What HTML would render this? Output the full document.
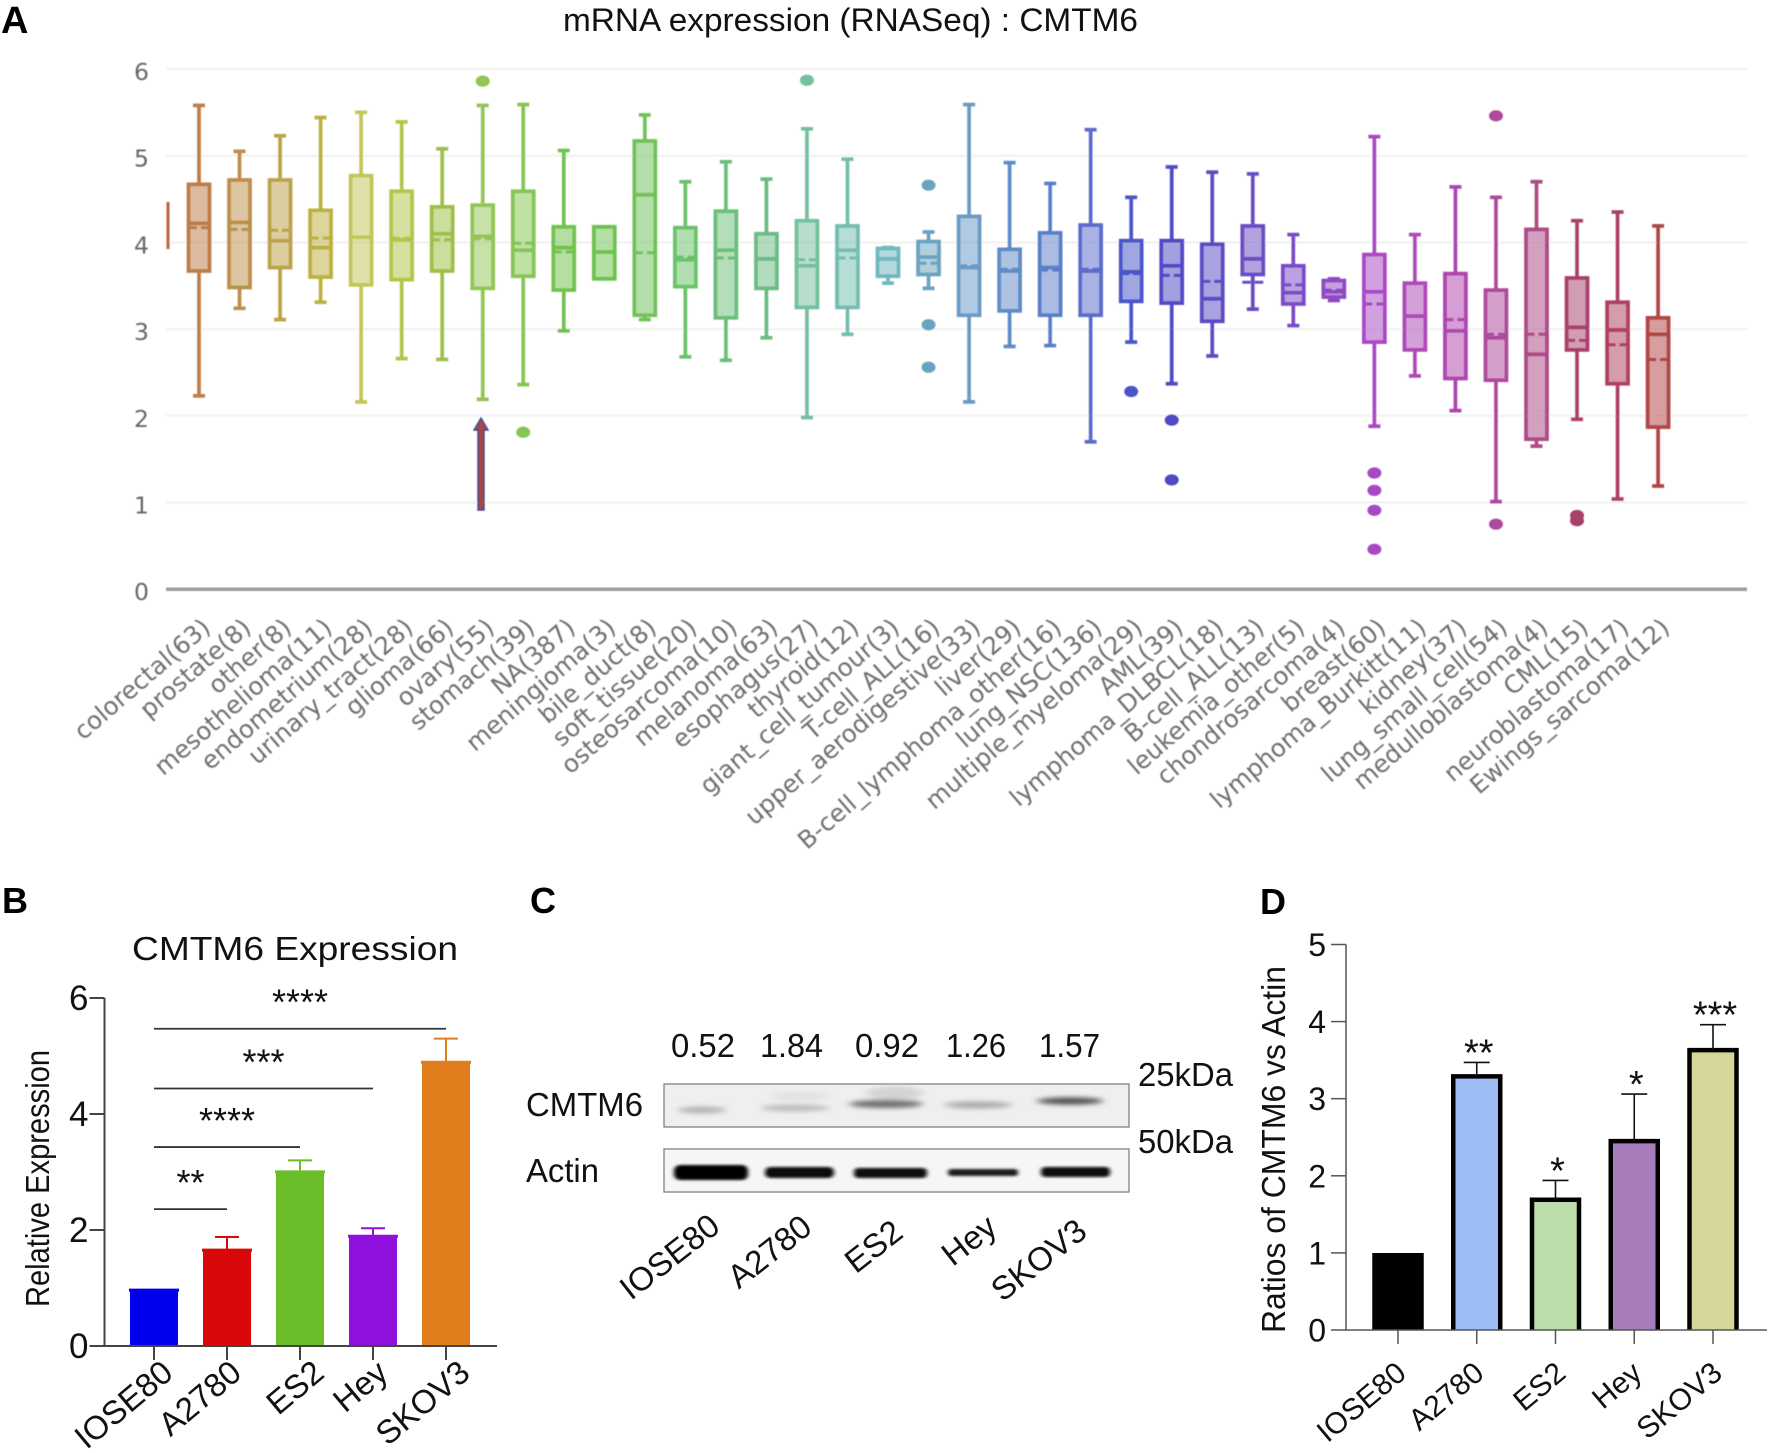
<!DOCTYPE html>
<html lang="en">
<head>
<meta charset="utf-8">
<title>CMTM6 expression figure</title>
<style>
html,body{margin:0;padding:0;background:#fff;width:1772px;height:1453px;overflow:hidden}
svg{display:block}
text{font-family:"Liberation Sans",Arial,sans-serif;fill:#111}
.panel{font-weight:bold;font-size:36px;fill:#000}
</style>
</head>
<body>
<svg id="fig" width="1772" height="1453" viewBox="0 0 1772 1453" xmlns="http://www.w3.org/2000/svg">
<defs>
<filter id="soft" x="-5%" y="-5%" width="110%" height="110%"><feGaussianBlur stdDeviation="0.7"/></filter>
<filter id="softer" x="-5%" y="-5%" width="110%" height="110%"><feGaussianBlur stdDeviation="0.5"/></filter>
<filter id="band" x="-30%" y="-200%" width="160%" height="500%"><feGaussianBlur stdDeviation="4 2.4"/></filter>
<filter id="band2" x="-30%" y="-150%" width="160%" height="400%"><feGaussianBlur stdDeviation="2.2 1.3"/></filter>
</defs>

<text class="panel" x="1" y="33" style="font-size:38px">A</text>
<text class="panel" x="2" y="913">B</text>
<text class="panel" x="530" y="913">C</text>
<text class="panel" x="1260" y="914">D</text>

<text x="563" y="31" font-size="32" textLength="575" lengthAdjust="spacingAndGlyphs">mRNA expression (RNASeq) : CMTM6</text>
<g id="panelA"></g>

<text x="132" y="960" font-size="33" textLength="326" lengthAdjust="spacingAndGlyphs">CMTM6 Expression</text>
<text transform="translate(49,1307) rotate(-90)" font-size="33" textLength="257" lengthAdjust="spacingAndGlyphs">Relative Expression</text>
<g id="panelB"></g>

<g id="panelC">
  <text x="671" y="1057" font-size="33" textLength="64" lengthAdjust="spacingAndGlyphs">0.52</text>
  <text x="760" y="1057" font-size="33" textLength="63" lengthAdjust="spacingAndGlyphs">1.84</text>
  <text x="855" y="1057" font-size="33" textLength="64" lengthAdjust="spacingAndGlyphs">0.92</text>
  <text x="946" y="1057" font-size="33" textLength="60" lengthAdjust="spacingAndGlyphs">1.26</text>
  <text x="1039" y="1057" font-size="33" textLength="61" lengthAdjust="spacingAndGlyphs">1.57</text>
  <text x="1138" y="1086" font-size="33" textLength="95" lengthAdjust="spacingAndGlyphs">25kDa</text>
  <text x="1138" y="1153" font-size="33" textLength="95" lengthAdjust="spacingAndGlyphs">50kDa</text>
  <text x="526" y="1116" font-size="33" textLength="117" lengthAdjust="spacingAndGlyphs">CMTM6</text>
  <text x="526" y="1182" font-size="33" textLength="73" lengthAdjust="spacingAndGlyphs">Actin</text>

  <g>
    <rect x="664" y="1084" width="465" height="43" fill="#efefef" stroke="#777" stroke-width="1.2"/>
    <ellipse cx="702" cy="1110" rx="24" ry="3.5" fill="#b4b4b4" filter="url(#band)"/>
    <ellipse cx="800" cy="1096" rx="30" ry="5" fill="#e2e2e2" filter="url(#band)"/>
    <ellipse cx="795" cy="1108" rx="34" ry="3.5" fill="#bcbcbc" filter="url(#band)"/>
    <ellipse cx="895" cy="1093" rx="28" ry="7" fill="#d4d4d4" filter="url(#band)"/>
    <ellipse cx="886" cy="1104" rx="37" ry="4" fill="#707070" filter="url(#band)"/>
    <ellipse cx="978" cy="1105" rx="34" ry="3.6" fill="#acacac" filter="url(#band)"/>
    <ellipse cx="1070" cy="1101" rx="33" ry="3.6" fill="#505050" filter="url(#band)"/>
  </g>
  <g>
    <rect x="664" y="1149" width="465" height="43" fill="#f6f6f6" stroke="#777" stroke-width="1.2"/>
    <rect x="674" y="1165" width="74" height="15" rx="6" fill="#000" filter="url(#band2)"/>
    <rect x="765" y="1167" width="69" height="11" rx="5" fill="#0a0a0a" filter="url(#band2)"/>
    <rect x="854" y="1168" width="73" height="10" rx="4" fill="#111" filter="url(#band2)"/>
    <rect x="948" y="1169" width="70" height="7" rx="3" fill="#1c1c1c" filter="url(#band2)"/>
    <rect x="1041" y="1167" width="69" height="10" rx="4" fill="#111" filter="url(#band2)"/>
  </g>
  <text text-anchor="end" transform="translate(722,1230) rotate(-38)" font-size="33">IOSE80</text>
  <text text-anchor="end" transform="translate(814,1231) rotate(-38)" font-size="33">A2780</text>
  <text text-anchor="end" transform="translate(905,1236) rotate(-38)" font-size="33">ES2</text>
  <text text-anchor="end" transform="translate(999,1231) rotate(-38)" font-size="33">Hey</text>
  <text text-anchor="end" transform="translate(1089,1235) rotate(-38)" font-size="33">SKOV3</text>
</g>

<text transform="translate(1285,1333) rotate(-90)" font-size="33" textLength="367" lengthAdjust="spacingAndGlyphs">Ratios of CMTM6 vs Actin</text>
<g id="panelD"></g>
</svg>

<script>
/* ---------- Panel A data ---------- */
const cancerTypes = ["colorectal(63)","prostate(8)","other(8)","mesothelioma(11)","endometrium(28)","urinary_tract(28)","glioma(66)","ovary(55)","stomach(39)","NA(387)","meningioma(3)","bile_duct(8)","soft_tissue(20)","osteosarcoma(10)","melanoma(63)","esophagus(27)","thyroid(12)","giant_cell_tumour(3)","T-cell_ALL(16)","upper_aerodigestive(33)","liver(29)","B-cell_lymphoma_other(16)","lung_NSC(136)","multiple_myeloma(29)","AML(39)","lymphoma_DLBCL(18)","B-cell_ALL(13)","leukemia_other(5)","chondrosarcoma(4)","breast(60)","lymphoma_Burkitt(11)","kidney(37)","lung_small_cell(54)","medulloblastoma(4)","CML(15)","neuroblastoma(17)","Ewings_sarcoma(12)"];
const whiskerHigh = [5.58,5.05,5.23,5.44,5.50,5.39,5.08,5.58,5.59,5.06,4.18,5.47,4.70,4.93,4.73,5.31,4.96,3.94,4.12,5.59,4.92,4.68,5.30,4.52,4.87,4.81,4.79,4.09,3.58,5.22,4.09,4.64,4.52,4.70,4.25,4.35,4.19];
const quartile3 = [4.67,4.72,4.72,4.37,4.77,4.59,4.41,4.43,4.59,4.18,4.18,5.17,4.17,4.36,4.10,4.25,4.19,3.93,4.01,4.30,3.92,4.11,4.20,4.02,4.02,3.98,4.19,3.73,3.56,3.86,3.53,3.64,3.45,4.15,3.59,3.31,3.13];
const medians = [4.22,4.23,4.02,3.94,4.06,4.03,4.10,4.07,3.91,3.94,3.89,4.55,3.80,3.91,3.81,3.73,3.91,3.81,3.83,3.71,3.67,3.71,3.67,3.66,3.73,3.35,3.81,3.42,3.43,3.43,3.15,2.98,2.90,2.71,3.02,2.99,2.94];
const means = [4.17,4.15,4.14,4.05,4.06,4.05,4.03,4.04,3.99,3.89,3.89,3.88,3.83,3.82,3.81,3.80,3.82,3.81,3.76,3.73,3.69,3.68,3.69,3.64,3.62,3.55,3.54,3.51,3.45,3.29,3.15,3.11,2.94,2.94,2.87,2.82,2.65];
const quartile1 = [3.67,3.48,3.71,3.60,3.51,3.57,3.67,3.47,3.61,3.45,3.58,3.16,3.49,3.13,3.47,3.25,3.25,3.61,3.63,3.16,3.21,3.16,3.16,3.32,3.30,3.09,3.63,3.29,3.37,2.85,2.76,2.43,2.41,1.73,2.76,2.37,1.87];
const whiskerLow = [2.23,3.24,3.11,3.31,2.16,2.66,2.65,2.19,2.36,2.98,3.58,3.11,2.68,2.64,2.90,1.98,2.94,3.53,3.47,2.16,2.80,2.81,1.70,2.85,2.37,2.69,3.23,3.04,3.33,1.88,2.46,2.06,1.01,1.65,1.96,1.04,1.19];
const outliers = [[],[],[],[],[],[],[],[5.86],[1.81],[],[],[],[],[],[],[5.87],[],[],[4.66,3.05,2.56],[],[],[],[],[2.28],[1.95,1.26],[],[],[],[],[1.34,1.14,0.91,0.46],[],[],[5.46,0.75],[],[0.85,0.79],[],[]];
const yTicksA = [0,1,2,3,4,5,6];
const boxColors = ["#bd7d48","#bb8f48","#bca249","#bdb040","#c3c658","#b1c64a","#9cc046","#93c555","#84c553","#72c24f","#6dc24f","#71c25a","#6cc26a","#6cbf78","#6cbb83","#74c09e","#73bdb0","#6fb7bf","#6ba3c0","#6b9ac6","#5f8cc6","#5a7fc8","#5a6ccc","#4a55c8","#5049c4","#5a4cc4","#6a4cc4","#7a4cc8","#9048c4","#a848c4","#ad48b8","#ae45ae","#ae4a9c","#ad4a86","#a83f6c","#ad4060","#b04545"];

/* ---------- Panel B data ---------- */
const cellLines = ["IOSE80","A2780","ES2","Hey","SKOV3"];
const exprValues = [0.98,1.67,3.02,1.91,4.91];
const exprErrors = [0,0.21,0.18,0.12,0.39];
const yTicksB = [0,2,4,6];
const sigLevels = [2.36,3.43,4.44,5.47];
const sigEndBar = [1,2,3,4];
const sigStars = ["**","****","***","****"];
const barColorsB = ["#0000ee","#d90808","#6bbd2a","#9010dd","#e07d1c"];

/* ---------- Panel D data ---------- */
const ratioValues = [0.97,3.29,1.69,2.45,3.63];
const ratioErrors = [0,0.18,0.25,0.61,0.33];
const ratioStars = ["","**","*","*","***"];
const yTicksD = [0,1,2,3,4,5];
const barColorsD = ["#000000","#9dbdf5","#bcdeaa","#a67cba","#d5d699"];

const NS = "http://www.w3.org/2000/svg";
function mk(tag, attrs, parent, txt) {
  const el = document.createElementNS(NS, tag);
  for (const k in attrs) el.setAttribute(k, attrs[k]);
  if (txt !== undefined) el.textContent = txt;
  parent.appendChild(el);
  return el;
}
function slug(s) { return String(s).toLowerCase().replace(/[^a-z0-9]+/g, '-').replace(/^-|-$/g, ''); }

/* ---------- Panel A ---------- */
(function () {
  const root = document.getElementById('panelA');
  const g = mk('g', {filter: 'url(#softer)'}, root);
  const yA = v => 589.2 - v * 86.7;
  const xA = i => 199 + i * 40.53;
  yTicksA.forEach(t => {
    if (t > 0) {
      const gl = mk('line', {x1: 166, x2: 1747, y1: yA(t), y2: yA(t), stroke: '#f0f0f0', 'stroke-width': 2}, g);
      
      
    }
    const lab = mk('text', {x: 141.5, y: yA(t) + 11, 'text-anchor': 'middle', 'font-size': 23.5, style: 'font-family:"DejaVu Sans",sans-serif;fill:#666'}, g, t);
    
    
  });
  const ax = mk('line', {x1: 166, x2: 1747, y1: yA(0), y2: yA(0), stroke: '#9c9c9c', 'stroke-width': 3.5}, g);
  
  
  const redMark = mk('line', {x1: 168, x2: 168, y1: 202, y2: 249, stroke: '#c0603c', 'stroke-width': 3}, g);
  
  

  cancerTypes.forEach((name, i) => {
    const c = boxColors[i], x = xA(i), w = 21, cap = 6;
    const s = slug(name);
    const box = mk('g', {stroke: c, 'stroke-width': 3.7, fill: 'none'}, g);
    
    
    mk('line', {x1: x, x2: x, y1: yA(whiskerHigh[i]), y2: yA(quartile3[i])}, box);
    mk('line', {x1: x, x2: x, y1: yA(quartile1[i]), y2: yA(whiskerLow[i])}, box);
    mk('line', {x1: x - cap, x2: x + cap, y1: yA(whiskerHigh[i]), y2: yA(whiskerHigh[i])}, box);
    mk('line', {x1: x - cap, x2: x + cap, y1: yA(whiskerLow[i]), y2: yA(whiskerLow[i])}, box);
    mk('rect', {x: x - w / 2, width: w, y: yA(quartile3[i]), height: yA(quartile1[i]) - yA(quartile3[i]), fill: c, 'fill-opacity': 0.52}, box);
    mk('line', {x1: x - w / 2, x2: x + w / 2, y1: yA(medians[i]), y2: yA(medians[i])}, box);
    mk('line', {x1: x - w / 2, x2: x + w / 2, y1: yA(means[i]), y2: yA(means[i]), 'stroke-dasharray': '8.5 4', 'stroke-width': 3}, box);
    outliers[i].forEach(v => {
      const o = mk('ellipse', {cx: x, cy: yA(v), rx: 7, ry: 5.6, fill: c, stroke: 'none'}, g);
      
      
    });
    const lab = mk('text', {'text-anchor': 'end', transform: 'translate(' + (x + 13) + ',630) rotate(-40.7)', 'font-size': 24.5, style: 'font-family:"DejaVu Sans",sans-serif;fill:#6f6f6f'}, g, name);
    
    
  });

  const arrow = mk('path', {d: 'M478 510 V430 H474 L481 418 L488 430 H484 V510 Z', fill: '#a84444', stroke: '#2f4a8c', 'stroke-width': 1.4}, g);
  
  
})();

/* ---------- Panel B ---------- */
(function () {
  const g = document.getElementById('panelB');
  const yB = v => 1346 - v * 58;
  const xB = i => 154 + i * 73;
  const labelNudge = [21, 16.5, 26, 17, 26];
  const axisColor = '#444';
  cellLines.forEach((name, i) => {
    const x = xB(i), w = 48, c = barColorsB[i];
    const bar = mk('rect', {x: x - w / 2, y: yB(exprValues[i]), width: w, height: yB(0) - yB(exprValues[i]), fill: c}, g);
    
    
    const lip = mk('line', {x1: x - w / 2 - 1, x2: x + w / 2 + 1, y1: yB(exprValues[i]) + 1, y2: yB(exprValues[i]) + 1, stroke: c, 'stroke-width': 3}, g);
    
    
    if (exprErrors[i] > 0) {
      const top = yB(exprValues[i] + exprErrors[i]);
      const e = mk('path', {d: 'M' + x + ' ' + yB(exprValues[i]) + 'V' + top + 'M' + (x - 12) + ' ' + top + 'H' + (x + 12), stroke: c, 'stroke-width': 2, fill: 'none'}, g);
      
      
    }
    const t = mk('line', {x1: x, x2: x, y1: yB(0), y2: yB(0) + 14, stroke: axisColor, 'stroke-width': 2}, g);
    
    
    const lab = mk('text', {'text-anchor': 'end', transform: 'translate(' + (x + labelNudge[i]) + ',1376) rotate(-40)', 'font-size': 33}, g, name);
    
    
  });
  const axis = mk('path', {d: 'M104.5 ' + yB(yTicksB[yTicksB.length - 1]) + 'V' + yB(0) + 'H497', stroke: axisColor, 'stroke-width': 2, fill: 'none'}, g);
  
  
  yTicksB.forEach(t => {
    const tl = mk('line', {x1: 89.5, x2: 104.5, y1: yB(t), y2: yB(t), stroke: axisColor, 'stroke-width': 2}, g);
    
    
    const lab = mk('text', {x: 88.5, y: yB(t) + 12, 'text-anchor': 'end', 'font-size': 35}, g, t);
    
    
  });
  sigLevels.forEach((lvl, k) => {
    const xa = xB(0), xb = xB(sigEndBar[k]);
    const ln = mk('line', {x1: xa, x2: xb, y1: yB(lvl), y2: yB(lvl), stroke: '#333', 'stroke-width': 1.8}, g);
    
    
    const st = mk('text', {x: (xa + xb) / 2, y: yB(lvl) - 14, 'text-anchor': 'middle', 'font-size': 36}, g, sigStars[k]);
    
    
  });
})();

/* ---------- Panel D ---------- */
(function () {
  const g = document.getElementById('panelD');
  const yD = v => 1330 - v * 77.1;
  const xD = i => 1398 + i * 78.75;
  const labelNudge = [10, 9, 12, 9.5, 11];
  cellLines.forEach((name, i) => {
    const x = xD(i), w = 47;
    const bar = mk('rect', {x: x - w / 2, y: yD(ratioValues[i]), width: w, height: yD(0) - yD(ratioValues[i]), fill: barColorsD[i]}, g);
    
    
    const edge = mk('path', {d: 'M' + (x - w / 2) + ' ' + yD(0) + 'V' + yD(ratioValues[i]) + 'H' + (x + w / 2) + 'V' + yD(0), stroke: '#000', 'stroke-width': 4.5, fill: 'none'}, g);
    
    
    if (ratioErrors[i] > 0) {
      const top = yD(ratioValues[i] + ratioErrors[i]);
      const e = mk('path', {d: 'M' + x + ' ' + yD(ratioValues[i]) + 'V' + top + 'M' + (x - 13) + ' ' + top + 'H' + (x + 13), stroke: '#111', 'stroke-width': 1.6, fill: 'none'}, g);
      
      
      const st = mk('text', {x: x + 2, y: top + 3, 'text-anchor': 'middle', 'font-size': 38}, g, ratioStars[i]);
      
      
    }
    const t = mk('line', {x1: x, x2: x, y1: yD(0), y2: yD(0) + 14, stroke: '#555', 'stroke-width': 1.5}, g);
    
    
    const lab = mk('text', {'text-anchor': 'end', transform: 'translate(' + (x + labelNudge[i]) + ',1376) rotate(-40)', 'font-size': 30}, g, name);
    
    
  });
  const axis = mk('path', {d: 'M1346 ' + yD(yTicksD[yTicksD.length - 1]) + 'V' + yD(0) + 'H1767', stroke: '#555', 'stroke-width': 1.5, fill: 'none'}, g);
  
  
  yTicksD.forEach(t => {
    const tl = mk('line', {x1: 1331, x2: 1346, y1: yD(t), y2: yD(t), stroke: '#555', 'stroke-width': 1.5}, g);
    
    
    const lab = mk('text', {x: 1326, y: yD(t) + 11.5, 'text-anchor': 'end', 'font-size': 32}, g, t);
    
    
  });
})();
</script>
</body>
</html>
